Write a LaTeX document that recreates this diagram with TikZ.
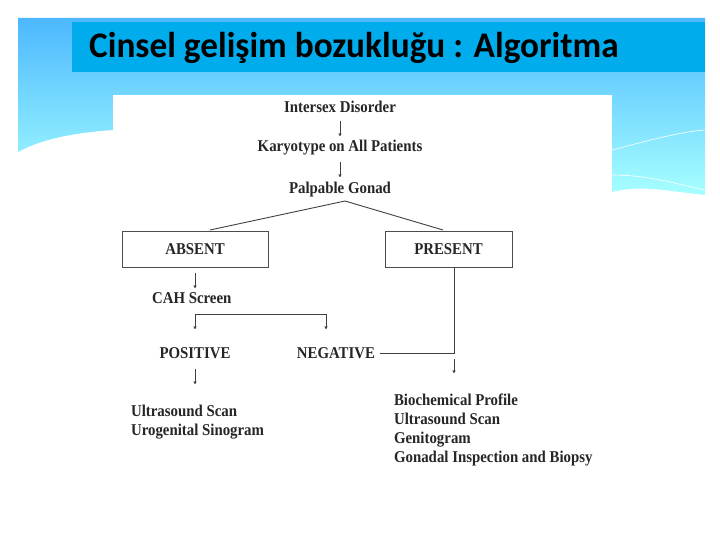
\documentclass[tikz,border=0pt]{standalone}
\usepackage{fontspec}
\usetikzlibrary{arrows.meta}
\setmainfont{Liberation Serif}
\newfontfamily\titlefont{Carlito}
\definecolor{titlebar}{RGB}{0,172,236}
\begin{document}
\begin{tikzpicture}[x=1pt,y=-1pt,
  lbl/.style={font=\bfseries\fontsize{16.5}{19}\selectfont, inner sep=1pt, text=black!85, xscale=0.9},
  box/.style={draw=black!70, line width=0.8pt, minimum width=146pt, minimum height=36pt, inner sep=0pt},
  con/.style={draw=black!75, line width=0.9pt},
  arr/.style={con, -{To[length=3pt,width=3pt]}}]
\useasboundingbox (0,0) rectangle (720,540);
\fill[white] (0,0) rectangle (720,540);
% blue background band
\shade[top color=cyan!60!blue!70, bottom color=cyan!35!white, shading angle=0]
  (18,18) -- (705,18) -- (705,195) .. controls (660,190) and (640,185) .. (612,192)
  -- (612,95) -- (113,95) -- (113,130) .. controls (70,133) and (40,140) .. (18,152) -- cycle;
\draw[white, line width=0.6pt] (612,150) .. controls (650,140) and (680,132) .. (705,130);
\draw[white, line width=0.6pt] (612,175) .. controls (650,175) and (680,185) .. (705,190);
\fill[titlebar] (72,22) rectangle (705,72);
\node[font=\titlefont\bfseries\fontsize{36}{40}\selectfont, anchor=west, inner sep=0pt, xscale=0.98] (title) at (89,48) {Cinsel gelişim bozukluğu : Algoritma};
% image
\fill[white] (113,95) rectangle (612,470);
\begin{scope}
\clip (113,95) rectangle (607,470);
\node[lbl] (intersex) at (340,107) {Intersex Disorder};
\node[lbl] (karyo) at (340,148) {Karyotype on All Patients};
\node[lbl] (palp) at (340,190) {Palpable Gonad};
\node[box] (absent) at (195,249) {};
\node[lbl] (absentt) at (195,249) {ABSENT};
\node[box, minimum width=127pt] (present) at (448.5,249) {};
\node[lbl] (presentt) at (448.5,249) {PRESENT};
\node[lbl, anchor=west] (cah) at (151,298) {CAH Screen};
\node[lbl] (pos) at (195,353) {POSITIVE};
\node[lbl] (neg) at (336,353) {NEGATIVE};
\node[lbl, anchor=north west, align=left] (left) at (130,404) {Ultrasound Scan\\Urogenital Sinogram};
\node[lbl, anchor=north west, align=left] (right) at (393,393) {Biochemical Profile\\Ultrasound Scan\\Genitogram\\Gonadal Inspection and Biopsy};
\coordinate (a1) at (340,121); \coordinate (a1e) at (340,136);
\draw[arr] (a1) -- (a1e);
\coordinate (a2) at (340,162); \coordinate (a2e) at (340,177);
\draw[arr] (a2) -- (a2e);
\coordinate (apex) at (345,201);
\draw[con] (210,230) -- (apex) -- (443,230);
\coordinate (a3) at (195,273); \coordinate (a3e) at (195,288);
\draw[arr] (a3) -- (a3e);
\coordinate (b1) at (195,329); \coordinate (b2) at (326,329);
\draw[con, {To[length=3pt,width=3pt]}-{To[length=3pt,width=3pt]}] (b1) -- (195,314) -- (326,314) -- (b2);
\coordinate (j) at (454,353);
\draw[con] (neg.east) ++(4,0) -- (j) -- (454,267);
\coordinate (a4) at (454,359); \coordinate (a4e) at (454,373);
\draw[arr] (a4) -- (a4e);
\coordinate (a5) at (195,369); \coordinate (a5e) at (195,384);
\draw[arr] (a5) -- (a5e);
\end{scope}
\end{tikzpicture}
\end{document}
